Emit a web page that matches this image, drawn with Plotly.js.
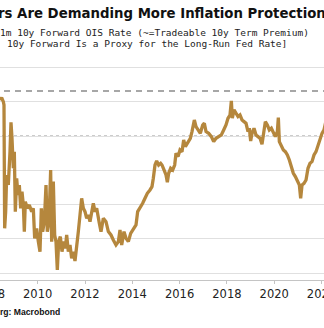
<!DOCTYPE html>
<html>
<head>
<meta charset="utf-8">
<script src="https://cdn.plot.ly/plotly-3.0.1.min.js"></script>
<style>html,body{margin:0;padding:0;background:#fff;overflow:hidden;width:324px;height:328px}#wrap{position:relative;width:324px;height:328px;overflow:hidden}#chart{position:absolute;left:-40px;top:0;width:384px;height:328px}</style>
</head>
<body>
<div id="wrap"><div id="chart"></div></div>
<script>
// Decimal years and 1m 10y forward OIS rate (%)
const years = [2008.406,2008.476,2008.547,2008.575,2008.603,2008.646,2008.688,2008.758,2008.829,2008.871,2008.913,2008.970,2009.012,2009.054,2009.111,2009.167,2009.224,2009.280,2009.336,2009.393,2009.435,2009.477,2009.562,2009.646,2009.745,2009.815,2009.872,2009.956,2010.027,2010.097,2010.154,2010.210,2010.281,2010.351,2010.407,2010.478,2010.548,2010.591,2010.661,2010.718,2010.774,2010.830,2010.887,2010.957,2011.028,2011.098,2011.168,2011.225,2011.295,2011.366,2011.436,2011.507,2011.577,2011.648,2011.718,2011.789,2011.859,2011.930,2012.000,2012.071,2012.141,2012.212,2012.352,2012.423,2012.494,2012.606,2012.677,2012.775,2012.888,2012.987,2013.099,2013.198,2013.311,2013.410,2013.480,2013.551,2013.649,2013.734,2013.833,2013.931,2014.044,2014.157,2014.227,2014.326,2014.438,2014.537,2014.636,2014.748,2014.833,2014.889,2014.960,2015.030,2015.115,2015.199,2015.256,2015.341,2015.425,2015.482,2015.538,2015.622,2015.707,2015.792,2015.848,2015.933,2016.017,2016.102,2016.172,2016.243,2016.355,2016.454,2016.524,2016.623,2016.694,2016.778,2016.877,2016.976,2017.046,2017.116,2017.229,2017.342,2017.441,2017.539,2017.652,2017.765,2017.864,2017.962,2018.047,2018.131,2018.188,2018.230,2018.300,2018.385,2018.470,2018.554,2018.639,2018.723,2018.808,2018.892,2018.949,2019.005,2019.062,2019.146,2019.231,2019.315,2019.400,2019.484,2019.555,2019.625,2019.710,2019.794,2019.879,2019.964,2020.048,2020.133,2020.175,2020.217,2020.302,2020.387,2020.471,2020.556,2020.640,2020.725,2020.809,2020.894,2020.978,2021.063,2021.119,2021.176,2021.260,2021.345,2021.429,2021.514,2021.598,2021.683,2021.768,2021.852,2021.937,2022.021,2022.106,2022.150,2022.200];
const rates = [4.030,4.064,4.005,3.957,2.153,2.397,2.933,2.787,3.274,3.703,3.469,3.031,3.274,2.397,2.885,2.641,2.787,2.446,2.690,2.495,2.105,2.543,2.446,2.495,2.397,2.446,2.007,2.153,1.959,1.812,2.446,2.105,2.251,2.787,2.105,2.251,3.006,1.959,2.836,2.056,1.959,1.544,1.959,2.032,1.812,1.959,1.861,2.056,1.812,1.910,1.715,1.812,1.676,1.861,2.105,2.349,2.592,2.446,2.397,2.300,2.349,2.251,2.519,2.397,2.446,2.227,2.105,2.300,2.251,2.105,2.056,1.983,1.910,1.959,2.129,1.910,2.105,2.007,1.959,2.080,2.153,2.202,2.397,2.446,2.519,2.592,2.665,2.714,2.763,2.885,3.079,3.138,3.079,3.104,3.079,3.006,2.933,2.826,2.958,3.031,3.006,3.079,3.250,3.201,3.299,3.274,3.445,3.347,3.420,3.469,3.567,3.737,3.640,3.591,3.542,3.664,3.689,3.567,3.542,3.494,3.420,3.469,3.494,3.518,3.591,3.664,3.762,3.810,4.015,3.762,3.884,3.835,3.786,3.810,3.737,3.713,3.689,3.567,3.616,3.430,3.542,3.616,3.518,3.494,3.469,3.382,3.542,3.713,3.664,3.591,3.616,3.542,3.494,3.567,3.771,3.420,3.347,3.299,3.274,3.225,3.152,3.031,2.958,2.909,2.836,2.787,2.592,2.787,2.811,2.860,3.031,3.104,3.128,3.225,3.274,3.372,3.445,3.542,3.591,3.700,3.740];
const tickYears = [2008,2010,2012,2014,2016,2018,2020,2022];
const tickLabels = ["2008","2010","2012","2014","2016","2018","2020","2022"];
const gridLevels = [1.5,2.0,2.5,3.0,3.5,4.0,4.5];
const dashedLevel = 4.16;
const dottedLevel = 3.5;
const titleText = "rs Are Demanding More Inflation Protection";
const subtitle1 = "1m 10y Forward OIS Rate (~=Tradeable 10y Term Premium)";
const subtitle2 = "10y Forward Is a Proxy for the Long-Run Fed Rate]";
const sourceText = "rg: Macrobond";

// The chart is wider than the window (cropped like the reference): 40px hidden left, 20px hidden right
const W = 384, OFF = 40;
const xMin = 2006.715, xMax = 2022.951;
const px = p => (p + OFF) / W; // page pixel -> paper x
const py = p => (280 - p) / 222; // page pixel -> paper y

const shapes = [
  {type:'line', xref:'paper', x0:0, x1:1, yref:'y', y0:dashedLevel, y1:dashedLevel, line:{color:'#8a8a8a', width:1.6, dash:'6px,5px'}, layer:'below'},
  {type:'line', xref:'paper', x0:0, x1:1, yref:'y', y0:dottedLevel, y1:dottedLevel, line:{color:'#9a9a9a', width:1.3, dash:'3px,3px'}, layer:'below'}
];
const traces = [{
  x: years, y: rates, type:'scatter', mode:'lines',
  line:{color:'#b5873d', width:3.3}, hoverinfo:'skip'
}];
const layout = {
  width:W, height:328,
  margin:{l:0, r:0, t:58, b:48},
  paper_bgcolor:'#fff', plot_bgcolor:'#fff',
  showlegend:false,
  xaxis:{range:[xMin,xMax], tickvals:tickYears, ticktext:tickLabels, showgrid:false, zeroline:false,
    showline:true, linecolor:'#c4c4c4', linewidth:1, ticks:'outside', ticklen:3, tickcolor:'#c4c4c4',
    ticklabeloverflow:'allow',
    tickfont:{family:'DejaVu Sans', size:11.5, color:'#222'}},
  yaxis:{range:[1.398,4.643], tickvals:gridLevels, showticklabels:false, showgrid:true, gridcolor:'#e0e0e0', gridwidth:1, zeroline:false, showline:false},
  shapes: shapes,
  annotations:[
    {text:titleText, xref:'paper', yref:'paper', x:px(-4), y:py(13), xanchor:'left', yanchor:'middle', showarrow:false, font:{family:'DejaVu Sans', size:13.3, color:'#111', weight:'bold'}},
    {text:subtitle1, xref:'paper', yref:'paper', x:px(-2), y:py(32), xanchor:'left', yanchor:'middle', showarrow:false, font:{family:'DejaVu Sans Mono', size:9.5, color:'#222'}},
    {text:subtitle2, xref:'paper', yref:'paper', x:px(5), y:py(44), xanchor:'left', yanchor:'middle', showarrow:false, font:{family:'DejaVu Sans Mono', size:9.5, color:'#222'}},
    {text:sourceText, xref:'paper', yref:'paper', x:px(-2), y:py(312), xanchor:'left', yanchor:'middle', showarrow:false, font:{family:'Liberation Sans', size:8.6, color:'#111', weight:'bold'}}
  ]
};
Plotly.newPlot('chart', traces, layout, {staticPlot:true, displayModeBar:false});
</script>
</body>
</html>
